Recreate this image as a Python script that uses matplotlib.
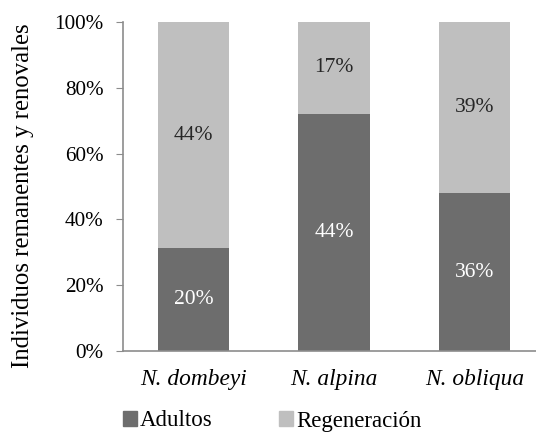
import matplotlib
matplotlib.use("Agg")
import matplotlib.pyplot as plt
from matplotlib.patches import Patch
from matplotlib.ticker import FuncFormatter

species = ["N. dombeyi", "N. alpina", "N. obliqua"]
adultos = [20, 44, 36]
regeneracion = [44, 17, 39]
yticks = [0, 20, 40, 60, 80, 100]

dark = "#6d6d6d"
light = "#bfbfbf"
plt.rcParams["font.family"] = ["Liberation Serif", "DejaVu Serif"]

W, H = 536, 433
fig = plt.figure(figsize=(W / 100, H / 100), dpi=100)
left, right, top, bottom = 123, 545, 22, 351
ax = fig.add_axes([left / W, 1 - bottom / H, (right - left) / W, (bottom - top) / H])

x = list(range(len(species)))
totals = [a + r for a, r in zip(adultos, regeneracion)]
fa = [100 * a / t for a, t in zip(adultos, totals)]
fr = [100 * r / t for r, t in zip(regeneracion, totals)]

ax.bar(x, fa, width=0.505, color=dark)
ax.bar(x, fr, width=0.505, bottom=fa, color=light)

for xi, a, r, va, vr in zip(x, fa, fr, adultos, regeneracion):
    ax.text(xi, a / 2, f"{va}%", ha="center", va="center", color="white", fontsize=15.5)
    ax.text(xi, a + r / 2, f"{vr}%", ha="center", va="center", color="#262626", fontsize=15.5)

ax.set_xlim(-0.5, 2.5)
ax.set_ylim(0, 100)
ax.set_yticks(yticks)
ax.yaxis.set_major_formatter(FuncFormatter(lambda v, p: f"{int(v)}%"))
ax.set_xticks(x)
ax.set_xticklabels(species, fontstyle="italic", fontsize=16.8)
ax.tick_params(axis="x", length=0, pad=13)
ax.tick_params(axis="y", length=5, color="#8c8c8c", labelsize=15.2, pad=9)
for s in ["top", "right"]:
    ax.spines[s].set_visible(False)
for s in ["left", "bottom"]:
    ax.spines[s].set_color("#8c8c8c")
    ax.spines[s].set_linewidth(1.2)

fig.text(23 / W, 1 - 196 / H, "Individuos remanentes y renovales", rotation=90,
         ha="center", va="center", fontsize=17.8)

handles = [Patch(color=dark, label="Adultos"), Patch(color=light, label="Regeneración")]
fig.legend(handles=handles, loc="center left", bbox_to_anchor=(123 / W, 1 - 421 / H), ncol=2,
           frameon=False, fontsize=16.5, handlelength=0.62, handleheight=0.62,
           handletextpad=0.12, columnspacing=2.9, borderpad=0, borderaxespad=0)

fig.savefig("out.png", dpi=100)
